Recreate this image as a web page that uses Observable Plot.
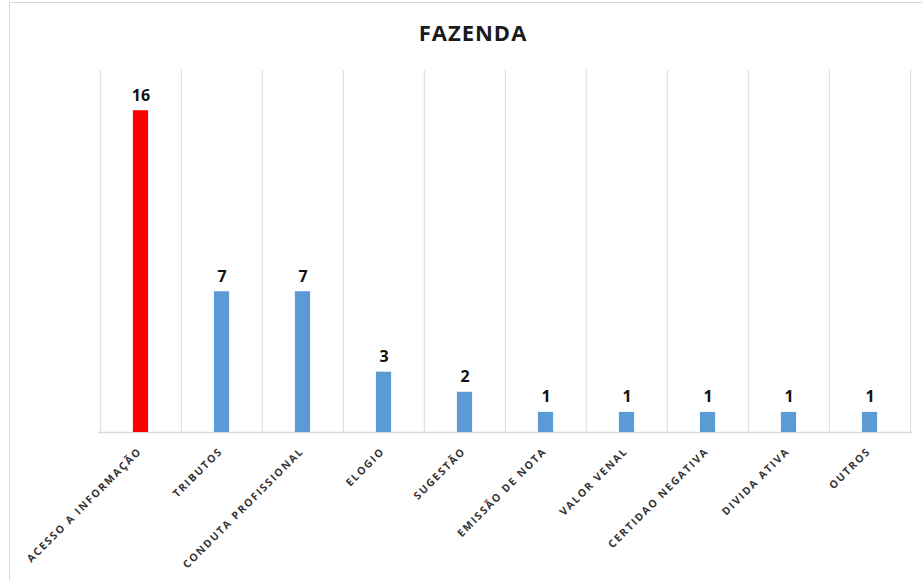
<!DOCTYPE html>
<html>
<head>
<meta charset="utf-8">
<script src="https://cdn.jsdelivr.net/npm/d3@7"></script>
<script src="https://cdn.jsdelivr.net/npm/@observablehq/plot@0.6"></script>
<style>
  html, body { margin: 0; padding: 0; background: #fff; }
  #wrap { position: relative; width: 922px; height: 580px; overflow: hidden; background: #fff; }
  #frame { position: absolute; left: 9px; top: 2px; width: 940px; height: 600px; border: 1.5px solid #d9d9d9; box-sizing: border-box; }
  #title { position: absolute; left: 0; width: 946px; top: 17px; text-align: center; font: bold 22px "Open Sans", sans-serif; letter-spacing: 1px; color: #1a1a1a; }
  #chart { position: absolute; left: 0; top: 0; }
  .xlab text { letter-spacing: 1.7px; }
</style>
</head>
<body>
<div id="wrap">
  <div id="frame"></div>
  <div id="title">FAZENDA</div>
  <div id="chart"></div>
</div>
<script>
const categories = ["ACESSO A INFORMAÇÃO", "TRIBUTOS", "CONDUTA PROFISSIONAL", "ELOGIO", "SUGESTÃO", "EMISSÃO DE NOTA", "VALOR VENAL", "CERTIDAO NEGATIVA", "DIVIDA ATIVA", "OUTROS"];
const values = [16, 7, 7, 3, 2, 1, 1, 1, 1, 1];
const highlight = ["ACESSO A INFORMAÇÃO"];

const data = categories.map((c, i) => ({category: c, value: values[i]}));

const W = 922, H = 580, ML = 98, MR = 10, MT = 70, MB = 148;
const bw = (W - ML - MR) / categories.length;
const barW = 15.6;

const plot = Plot.plot({
  width: W,
  height: H,
  marginLeft: ML,
  marginRight: MR,
  marginTop: MT,
  marginBottom: MB,
  style: {background: "transparent", fontFamily: "'Open Sans', sans-serif"},
  x: {domain: categories, padding: 0, axis: null},
  y: {domain: [0, 18], axis: null},
  marks: [
    Plot.ruleX(categories, {x: d => d, y1: 0, y2: 18, dx: -bw / 2, stroke: "#d9d9d9", strokeWidth: 1}),
    Plot.ruleX(categories.slice(-1), {x: d => d, y1: 0, y2: 18, dx: bw / 2, stroke: "#d9d9d9", strokeWidth: 1}),
    Plot.ruleY([0], {stroke: "#d9d9d9", strokeWidth: 1.5}),
    Plot.barY(data, {
      x: "category", y: "value",
      fill: d => highlight.includes(d.category) ? "#ff0000" : "#5b9bd5",
      insetLeft: (bw - barW) / 2, insetRight: (bw - barW) / 2
    }),
    Plot.text(data, {
      x: "category", y: "value", text: d => String(d.value),
      lineAnchor: "bottom", dy: -10, fontSize: 16, fontWeight: "bold", fill: "#111"
    }),
    Plot.text(categories, {
      x: d => d, y: () => 0, text: d => d,
      rotate: -45, textAnchor: "end", lineAnchor: "middle",
      dx: -1, dy: 17, fontSize: 10.5, fontWeight: "bold", fill: "#333",
      className: "xlab"
    })
  ]
});
document.getElementById("chart").appendChild(plot);
</script>
</body>
</html>
